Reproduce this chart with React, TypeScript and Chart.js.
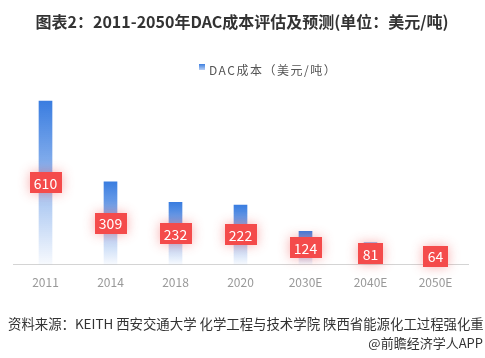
import React, { useEffect, useRef } from "react";
import { Chart, registerables } from "chart.js";

Chart.register(...registerables);

const categories = ["2011", "2014", "2018", "2020", "2030E", "2040E", "2050E"];
const costValues = [610, 309, 232, 222, 124, 81, 64];
const seriesName = "DAC成本（美元/吨）";
const titleText = "图表2：2011-2050年DAC成本评估及预测(单位：美元/吨)";
const sourceText = "资料来源：KEITH 西安交通大学 化学工程与技术学院 陕西省能源化工过程强化重";
const creditText = "@前瞻经济学人APP";

const FONT = '"Noto Sans CJK SC", "Noto Sans", sans-serif';

const decorPlugin = {
  id: "decor",
  afterDraw(chart: any) {
    const c = chart.ctx;
    c.save();
    // title
    c.fillStyle = "#333333";
    c.font = `bold 16px ${FONT}`;
    c.textAlign = "center";
    c.textBaseline = "middle";
    c.fillText(titleText, 242, 22);
    // legend
    const g = c.createLinearGradient(0, 64, 0, 70);
    g.addColorStop(0, "#3d7fe0");
    g.addColorStop(1, "#b9cff3");
    c.fillStyle = g;
    c.fillRect(199, 64, 6, 6);
    c.fillStyle = "#555555";
    c.font = `12px ${FONT}`;
    c.textAlign = "left";
    (c as any).letterSpacing = "1.5px";
    c.fillText(seriesName, 209, 70);
    (c as any).letterSpacing = "0px";
    // footer
    c.fillStyle = "#333333";
    c.font = `13.4px ${FONT}`;
    c.fillText(sourceText, 8, 324);
    c.textAlign = "right";
    c.font = `13px ${FONT}`;
    c.fillText(creditText, 483, 343);
    c.restore();
  },
  afterDatasetsDraw(chart: any) {
    const c = chart.ctx;
    const meta = chart.getDatasetMeta(0);
    c.save();
    c.font = `14px ${FONT}`;
    c.textAlign = "center";
    c.textBaseline = "middle";
    meta.data.forEach((el: any, i: number) => {
      const txt = String(costValues[i]);
      const tw = c.measureText(txt).width;
      const w = Math.round(tw + 9);
      const h = 21;
      const cx = el.x;
      const cy = (el.y + el.base) / 2;
      c.save();
      c.shadowColor = "rgba(240,70,70,0.45)";
      c.shadowBlur = 12;
      c.fillStyle = "#f44b4b";
      c.fillRect(Math.round(cx - w / 2), Math.round(cy - h / 2), w, h);
      c.restore();
      c.fillStyle = "#ffffff";
      c.fillText(txt, cx, cy + 1);
    });
    c.restore();
  },
};

export default function App() {
  const ref = useRef<HTMLCanvasElement>(null);
  useEffect(() => {
    if (!ref.current) return;
    const chart = new Chart(ref.current, {
      type: "bar",
      data: {
        labels: categories,
        datasets: [
          {
            label: seriesName,
            data: costValues,
            barThickness: 13,
            backgroundColor: (ctx: any) => {
              const ch = ctx.chart;
              if (!ch.chartArea || ctx.raw == null) return "#3d7fe0";
              const ys = ch.scales.y;
              const top = ys.getPixelForValue(ctx.raw);
              const base = ys.getPixelForValue(0);
              const g = ch.ctx.createLinearGradient(0, top, 0, base);
              g.addColorStop(0, "rgba(58,125,224,1)");
              g.addColorStop(1, "rgba(58,125,224,0.04)");
              return g;
            },
          },
        ],
      },
      options: {
        responsive: false,
        animation: false,
        layout: { padding: { top: 85, left: 13, right: 17, bottom: 57 } },
        plugins: {
          legend: { display: false },
          title: { display: false },
          tooltip: { enabled: false },
        },
        scales: {
          x: {
            grid: { display: false, drawTicks: false },
            border: { display: true, color: "#d4d4d4", width: 1 },
            ticks: { color: "#999999", font: { size: 12, family: FONT }, padding: 11 },
          },
          y: {
            display: false,
            min: 0,
            max: 670,
          },
        },
      },
      plugins: [decorPlugin],
    });
    return () => chart.destroy();
  }, []);
  return (
    <div style={{ position: "absolute", left: 0, top: 0, width: 485, height: 358, background: "#fff" }}>
      <canvas ref={ref} width={485} height={358} style={{ width: 485, height: 358 }} />
    </div>
  );
}
